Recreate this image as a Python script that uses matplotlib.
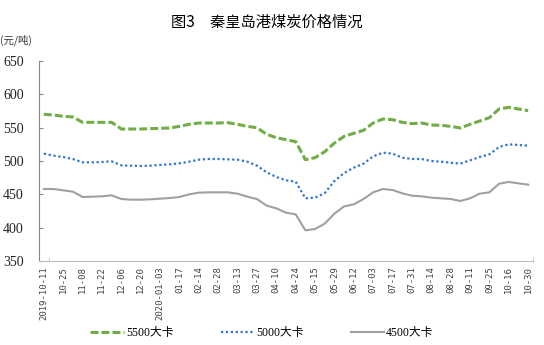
import matplotlib
matplotlib.use("Agg")
import matplotlib.pyplot as plt
import numpy as np

# 秦皇岛港动力煤周度价格 (元/吨)
dates = ["2019-10-11", "10-25", "11-08", "11-22", "12-06", "12-20", "2020-01-03",
         "01-17", "02-14", "02-28", "03-13", "03-27", "04-10", "04-24", "05-15",
         "05-29", "06-12", "07-03", "07-17", "07-31", "08-14", "08-28", "09-11",
         "09-25", "10-16", "10-30"]

p5500 = [570, 569, 567, 566, 558, 558, 558, 558, 548, 548,
         548, 548.5, 549, 549.5, 552, 555, 557, 557, 557, 557.5,
         555, 552, 550, 540, 535, 532, 529, 502, 505, 514,
         527, 537, 541.5, 546, 557, 563, 562, 558, 556, 557,
         554, 553.5, 552, 549.5, 555, 560, 565, 578, 580.5, 578,
         575.5]

p5000 = [511, 508, 506, 503, 498, 498, 498.5, 499.5, 493.5, 493,
         492.5, 493, 494, 495, 496.5, 499, 502, 503, 503, 502.5,
         502, 499, 493, 483, 476, 471, 469, 444, 445, 452,
         470, 482, 490, 496, 507, 512.5, 511, 505, 503, 503,
         500, 499, 497.5, 496, 501, 506, 510, 521, 525, 524,
         523]

p4500 = [458, 458, 456, 454, 446, 446.5, 447, 448.5, 443, 442,
         442, 442.5, 443.5, 444.5, 446, 450, 452.5, 453, 453, 453,
         451, 446.5, 443, 433, 429, 422.5, 420, 396, 398, 406,
         421, 432, 435, 443, 453, 458, 456.5, 451.5, 448, 447,
         445, 444, 443, 440, 444, 451, 453, 466, 468.5, 466.5,
         464.5]

labels = ["5500大卡", "5000大卡", "4500大卡"]

cjk = ["Noto Sans CJK SC", "DejaVu Sans"]
serif_cjk = ["Liberation Serif", "Noto Sans CJK SC"]

fig = plt.figure(figsize=(5.44, 3.45), dpi=100)
ax = fig.add_axes([39 / 544, 1 - 261 / 345, 494 / 544, 200 / 345])

x = np.arange(len(p5500))
ax.plot(x, p5500, color="#70AD47", lw=2.2, linestyle=(0, (2.6, 1.0)),
        label=labels[0])
ax.plot(x, p5000, color="#2E75D6", lw=1.6, linestyle=(0, (1, 1.2)),
        label=labels[1])
ax.plot(x, p4500, color="#A0A0A0", lw=1.5, label=labels[2])

ax.set_xlim(-0.5, len(x) - 0.5)
ax.set_ylim(350, 650)
ax.set_yticks(np.arange(350, 651, 50))
ax.set_xticks(x[::2])
ax.set_xticklabels(dates, rotation=90, family="DejaVu Sans Mono",
                   fontsize=6.4, color="#404040")
ax.set_xticks([0.5, len(x) - 0.5], minor=True)
ax.tick_params(axis="x", which="major", length=0, pad=4)
ax.tick_params(axis="x", which="minor", length=3, direction="in",
               color="#BFBFBF")
ax.tick_params(axis="y", length=3, direction="in", color="#888888", pad=11)
for t in ax.get_yticklabels():
    t.set_family("Liberation Serif")
    t.set_fontsize(10)
    t.set_color("#222222")

for side in ("top", "right"):
    ax.spines[side].set_visible(False)
ax.spines["left"].set_color("#888888")
ax.spines["bottom"].set_color("#BFBFBF")

fig.text(0.49, 1 - 22 / 345, "图3　秦皇岛港煤炭价格情况", family=cjk,
         fontsize=11, ha="center", va="center")
fig.text(0.0, 1 - 40 / 345, "(元/吨)", family=cjk, fontsize=7.5,
         ha="left", va="center", color="#333333")

fig.legend(loc="center", bbox_to_anchor=(262 / 544, 1 - 333 / 345), ncol=3,
           frameon=False, prop={"family": serif_cjk, "size": 8.5},
           handlelength=2.8, handletextpad=0.2, columnspacing=4.0)

fig.savefig("out.png", dpi=100)
